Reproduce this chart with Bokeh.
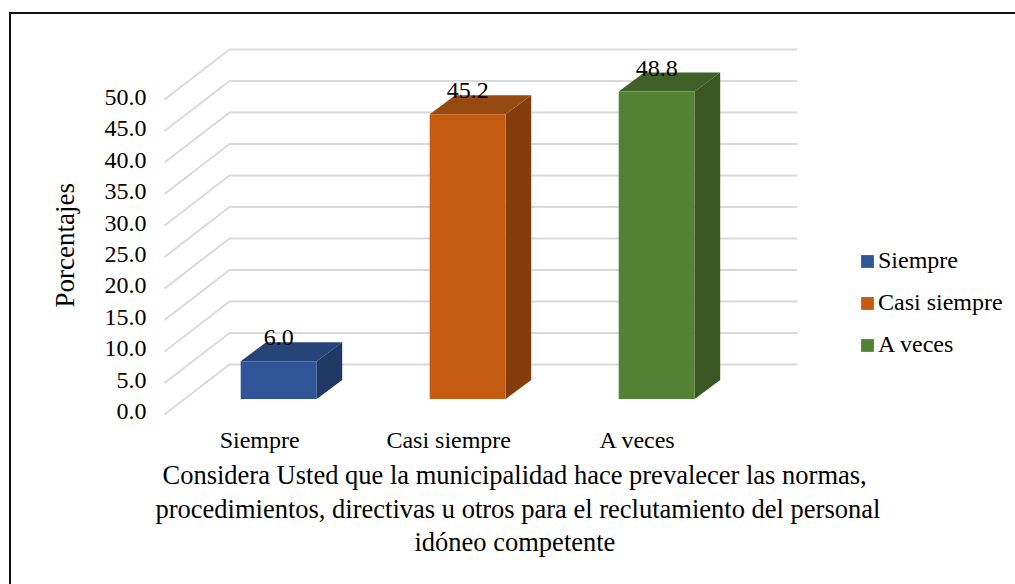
from bokeh.embed import file_html
from bokeh.models import (ColumnDataSource, FixedTicker, InlineStyleSheet, Legend, LegendItem,
                          LinearAxis, NumeralTickFormatter, Range1d, Title)
from bokeh.plotting import figure
from bokeh.resources import INLINE

categories = ["Siempre", "Casi siempre", "A veces"]
values = [6.0, 45.2, 48.8]
face_colors = ["#2F5597", "#C55A11", "#548235"]
top_colors = ["#264478", "#974A10", "#3F6128"]
side_colors = ["#1F3864", "#843C0C", "#385723"]
tick_values = [0, 5, 10, 15, 20, 25, 30, 35, 40, 45, 50]
y_title = "Porcentajes"
x_title_lines = ["Considera Usted que la municipalidad hace prevalecer las normas,",
                 "procedimientos, directivas u otros para el reclutamiento del personal",
                 "idóneo competente"]

W, H = 1015, 584
FONT = "Liberation Serif"
PX_PER_UNIT = 6.3
TICK_PX_PER_UNIT = 6.28
FRAME_LEFT, FRAME_BOTTOM = 150, 426
BASE_Y = 398.5
AXIS_BASE = 411.0
CENTER_0, STEP_X = 278.2, 189.0
CATEGORY_SHIFT = 19.0


def xd(px):
    return (px - CENTER_0) / STEP_X


def dy(px):
    return px / PX_PER_UNIT


p = figure(width=W, height=H, output_backend="svg", toolbar_location=None,
           x_range=Range1d(xd(FRAME_LEFT), xd(W)),
           y_range=Range1d(-(FRAME_BOTTOM - BASE_Y) / PX_PER_UNIT, BASE_Y / PX_PER_UNIT),
           min_border_left=FRAME_LEFT, min_border_right=0, min_border_top=0,
           min_border_bottom=H - FRAME_BOTTOM, x_axis_location=None, y_axis_location=None)
p.frame_width = W - FRAME_LEFT
p.frame_height = FRAME_BOTTOM
p.outline_line_color = None
p.grid.visible = False

# Top and left rules of the chart box; it has no right or bottom edge.
p.stylesheets = [InlineStyleSheet(css="""
:host::after {
  content: ""; position: absolute; left: 9px; top: 12px; right: 0; bottom: 0;
  border-left: 2px solid #111; border-top: 2px solid #111; pointer-events: none;
}
""")]

# Value axis: labels sit slightly above the front edge of the wall grid.
p.extra_y_ranges["ticks"] = Range1d(-(FRAME_BOTTOM - AXIS_BASE) / TICK_PX_PER_UNIT,
                                    AXIS_BASE / TICK_PX_PER_UNIT)
yaxis = LinearAxis(y_range_name="ticks", ticker=FixedTicker(ticks=tick_values),
                   formatter=NumeralTickFormatter(format="0.0"),
                   major_label_text_font=FONT, major_label_text_font_size="24px",
                   major_label_text_color="#000000", major_label_standoff=4,
                   axis_line_color=None, major_tick_line_color=None, minor_tick_line_color=None,
                   major_tick_out=0, major_tick_in=0)
p.add_layout(yaxis, "left")

# Category axis on the front plane, so its labels sit left of the bars.
p.extra_x_ranges["front"] = Range1d(xd(FRAME_LEFT + CATEGORY_SHIFT), xd(W + CATEGORY_SHIFT))
xaxis = LinearAxis(x_range_name="front", ticker=FixedTicker(ticks=list(range(len(categories)))),
                   major_label_overrides={i: c for i, c in enumerate(categories)},
                   major_label_text_font=FONT, major_label_text_font_size="24px",
                   major_label_text_color="#000000", major_label_standoff=0,
                   axis_line_color=None, major_tick_line_color=None, minor_tick_line_color=None,
                   major_tick_out=0, major_tick_in=0)
p.add_layout(xaxis, "below")

# Wall and side grid: one bent line per tick.
FRONT_X, BACK_X, RIGHT_X = 164.0, 229.0, 797.0
FRONT_OFF, BACK_OFF = -15.5, 34.5
grid_x = [[xd(FRONT_X), xd(BACK_X), xd(RIGHT_X)] for _ in tick_values]
grid_y = [[v + dy(FRONT_OFF), v + dy(BACK_OFF), v + dy(BACK_OFF)] for v in tick_values]
p.multi_line(grid_x, grid_y, line_color="#D9D9D9", line_width=2)

# Three-dimensional bars: front face, top and right side.
HALF = 38.0 / STEP_X
DEPTH_X, DEPTH_Y = 25.5 / STEP_X, dy(19.0)
xs = list(range(len(categories)))
faces = []
for i, (cat, val) in enumerate(zip(categories, values)):
    l, r = xs[i] - HALF, xs[i] + HALF
    p.patch([r, r + DEPTH_X, r + DEPTH_X, r], [0, DEPTH_Y, val + DEPTH_Y, val],
            fill_color=side_colors[i], line_color=None)
    p.patch([l, r, r + DEPTH_X, l + DEPTH_X], [val, val, val + DEPTH_Y, val + DEPTH_Y],
            fill_color=top_colors[i], line_color=None)
    faces.append(p.quad(left=[l], right=[r], bottom=[0], top=[val],
                        fill_color=face_colors[i], line_color=None))

labels = ColumnDataSource(dict(x=xs, y=values, t=[f"{v:.1f}" for v in values]))
p.text("x", "y", text="t", source=labels, text_font={"value": FONT},
       text_font_size={"value": "24px"}, text_color="#000000", text_align="center",
       text_baseline="middle", y_offset=-23.5)

legend = Legend(items=[LegendItem(label=c, renderers=[f]) for c, f in zip(categories, faces)],
                location=(709, 67), orientation="vertical", border_line_color=None,
                background_fill_alpha=0, glyph_width=16, glyph_height=16,
                label_text_font=FONT, label_text_font_size="24px", label_text_color="#000000",
                label_standoff=3, spacing=13, padding=0, margin=0, label_height=29)
p.add_layout(legend)

# Titles stack in the side panels; left-aligned ones honour their offset along the frame edge.
p.add_layout(Title(text=y_title, align="left", offset=119, standoff=44, text_font=FONT,
                   text_font_size="27px", text_font_style="normal", text_color="#000000"), "left")
for line, line_offset, line_standoff in zip(x_title_lines, [12, 5, 264], [4, 1, 0]):
    p.add_layout(Title(text=line, align="left", offset=line_offset, standoff=line_standoff,
                       text_font=FONT, text_font_size="26.5px", text_font_style="normal",
                       text_color="#000000"), "below")

open("out.html", "w").write(file_html(p, INLINE))
